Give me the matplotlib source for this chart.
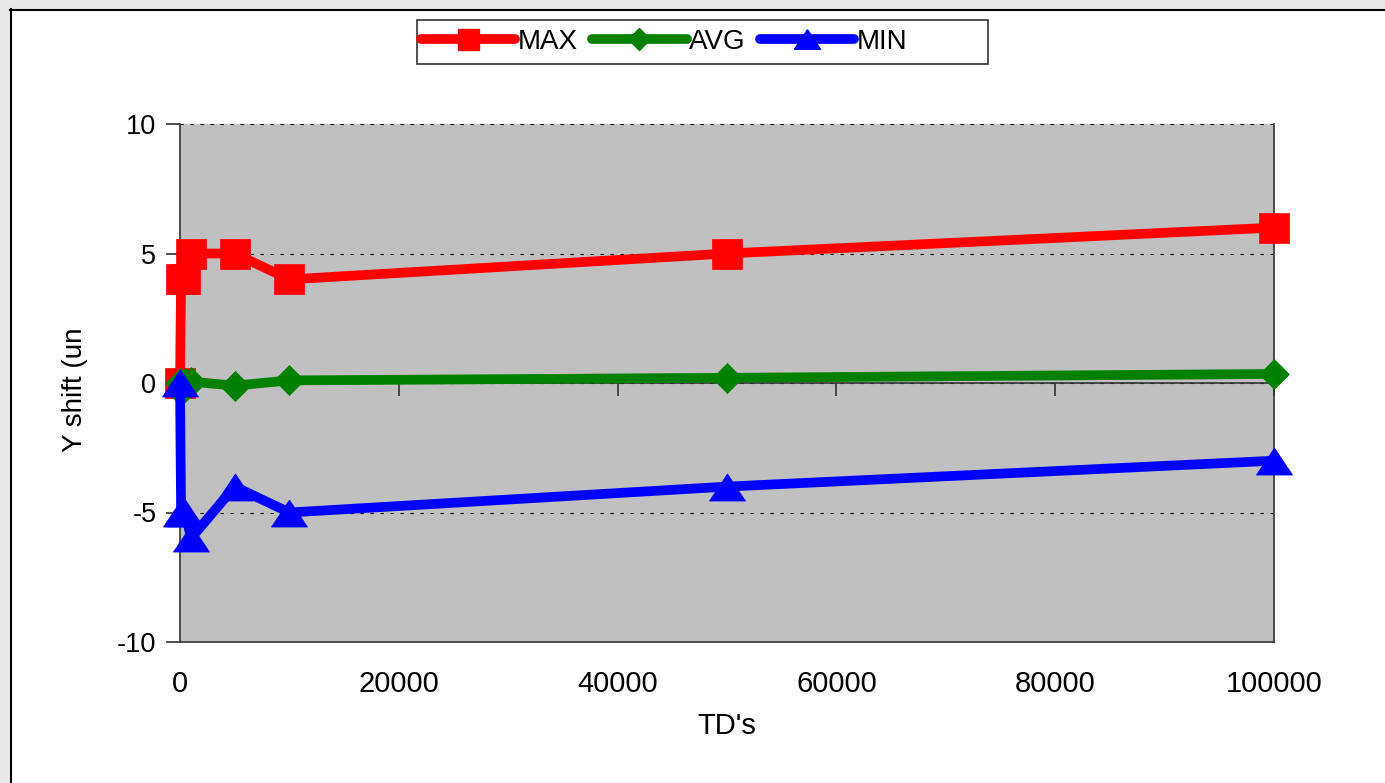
import matplotlib
matplotlib.use("Agg")
import matplotlib.pyplot as plt
from matplotlib.lines import Line2D
from matplotlib.patches import Rectangle

plt.rcParams['font.family'] = ['Liberation Sans', 'DejaVu Sans']
plt.rcParams['axes.unicode_minus'] = False

# data
td = [0, 100, 500, 1000, 5000, 10000, 50000, 100000]
y_max = [0, 4, 4, 5, 5, 4, 5, 6]
y_avg = [0, -0.3, 0, 0.05, -0.1, 0.1, 0.2, 0.35]
y_min = [0, -5, -5, -6, -4, -5, -4, -3]
labels = ["MAX", "AVG", "MIN"]
colors = ["#ff0000", "#008000", "#0000ff"]
xticks = [0, 20000, 40000, 60000, 80000, 100000]
yticks = [-10, -5, 0, 5, 10]

# flat triangle like the spreadsheet one
tri = [(0, 0.75), (-1, -0.75), (1, -0.75), (0, 0.75)]
markers = ["s", "D", tri]
msizes = [21, 15, 26]

W, H = 1385, 783
fig = plt.figure(figsize=(W / 100, H / 100), dpi=100)

# outer frame like the spreadsheet chart area
fig.patches.append(Rectangle((0, 0), 10 / W, 1, transform=fig.transFigure,
                             facecolor="#e8e8e8", edgecolor="none"))
fig.patches.append(Rectangle((0, 1 - 9 / H), 1, 9 / H, transform=fig.transFigure,
                             facecolor="#e8e8e8", edgecolor="none"))
fig.add_artist(Line2D([10.5 / W, 10.5 / W], [0, 1 - 9 / H], transform=fig.transFigure,
                      color="black", lw=1.5))
fig.add_artist(Line2D([10 / W, 1], [1 - 9.5 / H, 1 - 9.5 / H], transform=fig.transFigure,
                      color="black", lw=1.5))

ax = fig.add_axes([180 / W, 1 - 642 / H, (1274 - 180) / W, (642 - 124) / H])
ax.set_facecolor("#c0c0c0")
ax.set_xlim(0, 100000)
ax.set_ylim(-10, 10)

for vals, col, mk, ms in zip([y_max, y_avg, y_min], colors, markers, msizes):
    ax.plot(td, vals, color=col, lw=7, marker=mk, markersize=ms,
            markeredgecolor=col, markeredgewidth=0.5, clip_on=False, zorder=5,
            solid_capstyle="round", solid_joinstyle="round")

# gridlines and axis at zero
ax.set_yticks(yticks)
ax.yaxis.grid(True, color="black", linestyle=(0, (3, 6)), linewidth=0.8)
ax.axhline(0, color="#333333", lw=1.2, zorder=2)
ax.spines["top"].set_visible(False)
for s in ["left", "right", "bottom"]:
    ax.spines[s].set_color("#333333")
    ax.spines[s].set_linewidth(1.2)

ax.set_xticks(xticks)
ax.set_xticklabels([str(v) for v in xticks])
ax.tick_params(axis="x", length=0, pad=20, labelsize=21)
ax.tick_params(axis="y", length=10, width=1.2, color="#333333", pad=7,
               labelsize=19.5, direction="out")

# tick marks hanging from the zero line
sec = ax.secondary_xaxis(0.5)
sec.set_xticks(xticks)
sec.tick_params(axis="x", length=9, width=1.2, color="#333333", direction="in",
                labelbottom=False, labeltop=False)
sec.spines["bottom"].set_visible(False)
sec.spines["top"].set_visible(False)

ax.set_xlabel("TD's", fontsize=21, labelpad=10)
fig.text(75 / W, 1 - 390 / H, "Y shift (un", rotation=90, fontsize=20,
         ha="center", va="center")

# legend with a square box drawn separately
handles = [Line2D([], [], color=col, lw=7, marker=mk, markersize=ms * 0.72,
                  markeredgecolor=col, solid_capstyle="round")
           for col, mk, ms in zip(colors, markers, msizes)]
leg = fig.legend(handles, labels, loc="center left",
                 bbox_to_anchor=(421 / W, 1 - 42 / H), ncol=3, fontsize=20,
                 frameon=False, handlelength=3.4, handletextpad=0.1,
                 columnspacing=0.5, borderpad=0, borderaxespad=0)
fig.patches.append(Rectangle((417 / W, 1 - 64 / H), (988 - 417) / W, (64 - 20) / H,
                             transform=fig.transFigure, facecolor="white",
                             edgecolor="#333333", linewidth=1.2, zorder=0))

fig.savefig("out.png", dpi=100)
